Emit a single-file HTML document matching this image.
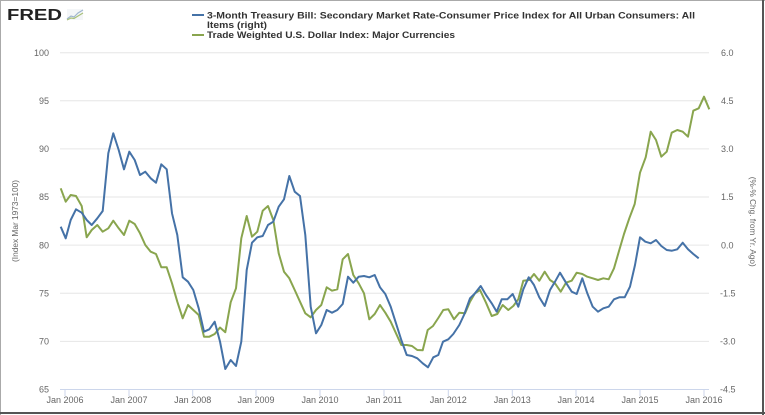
<!DOCTYPE html>
<html><head><meta charset="utf-8"><style>
html,body{margin:0;padding:0;background:#fff;}
svg{display:block;}
text{font-family:"Liberation Sans",Arial,sans-serif;}
</style></head><body>
<svg width="765" height="415" viewBox="0 0 765 415" xmlns="http://www.w3.org/2000/svg">
<rect x="0" y="0" width="765" height="415" fill="#fff"/>
<!-- border -->
<line x1="0.5" y1="0" x2="0.5" y2="415" stroke="#aaa" stroke-width="1"/>
<line x1="0" y1="0.5" x2="765" y2="0.5" stroke="#aaa" stroke-width="1"/>
<line x1="763" y1="0" x2="763" y2="415" stroke="#555" stroke-width="2"/>
<line x1="0" y1="413" x2="765" y2="413" stroke="#555" stroke-width="2"/>

<!-- FRED logo -->
<text x="7" y="20" font-size="16" font-weight="bold" fill="#222" textLength="55" lengthAdjust="spacingAndGlyphs">FRED</text>
<g>
<rect x="67" y="9" width="16" height="11" fill="#f4f6f8"/>
<polyline points="67,19 71,16 74,17 78,13 83,10" fill="none" stroke="#9fb6cf" stroke-width="1.2"/>
<polyline points="67,20 71,18 74,18.5 78,16 83,13" fill="none" stroke="#a9c17a" stroke-width="1.2"/>
</g>

<!-- legend -->
<line x1="192" y1="15" x2="204" y2="15" stroke="#4572a7" stroke-width="2"/>
<line x1="192" y1="35" x2="204" y2="35" stroke="#89a54e" stroke-width="2"/>
<g font-size="9" font-weight="bold" fill="#333">
<text x="207" y="18.3" textLength="488" lengthAdjust="spacingAndGlyphs">3-Month Treasury Bill: Secondary Market Rate-Consumer Price Index for All Urban Consumers: All</text>
<text x="207" y="28" textLength="60" lengthAdjust="spacingAndGlyphs">Items (right)</text>
<text x="207" y="38" textLength="248" lengthAdjust="spacingAndGlyphs">Trade Weighted U.S. Dollar Index: Major Currencies</text>
</g>

<!-- gridlines -->
<g stroke="#e6e6e6" stroke-width="1">
<line x1="60" y1="52.7" x2="709" y2="52.7"/>
<line x1="60" y1="100.8" x2="709" y2="100.8"/>
<line x1="60" y1="148.9" x2="709" y2="148.9"/>
<line x1="60" y1="197" x2="709" y2="197"/>
<line x1="60" y1="245.1" x2="709" y2="245.1"/>
<line x1="60" y1="293.3" x2="709" y2="293.3"/>
<line x1="60" y1="341.4" x2="709" y2="341.4"/>
</g>
<!-- x axis -->
<line x1="60" y1="389.5" x2="709" y2="389.5" stroke="#ccd6eb" stroke-width="1"/>
<g stroke="#ccd6eb" stroke-width="1">
<line x1="65" y1="389.5" x2="65" y2="396"/>
<line x1="129" y1="389.5" x2="129" y2="396"/>
<line x1="192.7" y1="389.5" x2="192.7" y2="396"/>
<line x1="256" y1="389.5" x2="256" y2="396"/>
<line x1="320" y1="389.5" x2="320" y2="396"/>
<line x1="384" y1="389.5" x2="384" y2="396"/>
<line x1="448.3" y1="389.5" x2="448.3" y2="396"/>
<line x1="512.3" y1="389.5" x2="512.3" y2="396"/>
<line x1="576" y1="389.5" x2="576" y2="396"/>
<line x1="640" y1="389.5" x2="640" y2="396"/>
<line x1="704" y1="389.5" x2="704" y2="396"/>
</g>
<g font-size="9" fill="#666" text-anchor="middle">
<text x="65" y="403">Jan 2006</text>
<text x="129" y="403">Jan 2007</text>
<text x="192.7" y="403">Jan 2008</text>
<text x="256" y="403">Jan 2009</text>
<text x="320" y="403">Jan 2010</text>
<text x="384" y="403">Jan 2011</text>
<text x="448.3" y="403">Jan 2012</text>
<text x="512.3" y="403">Jan 2013</text>
<text x="576" y="403">Jan 2014</text>
<text x="640" y="403">Jan 2015</text>
<text x="704" y="403">Jan 2016</text>
</g>
<!-- left labels -->
<g font-size="9" fill="#666" text-anchor="end">
<text x="49" y="55.9">100</text>
<text x="49" y="104">95</text>
<text x="49" y="152.1">90</text>
<text x="49" y="200.2">85</text>
<text x="49" y="248.3">80</text>
<text x="49" y="296.5">75</text>
<text x="49" y="344.6">70</text>
<text x="49" y="392.7">65</text>
</g>
<!-- right labels -->
<g font-size="9" fill="#666" text-anchor="start">
<text x="721" y="55.9">6.0</text>
<text x="721" y="104">4.5</text>
<text x="721" y="152.1">3.0</text>
<text x="721" y="200.2">1.5</text>
<text x="721" y="248.3">0.0</text>
<text x="720" y="296.5">-1.5</text>
<text x="720" y="344.6">-3.0</text>
<text x="720" y="392.7">-4.5</text>
</g>
<!-- axis titles -->
<text x="0" y="0" font-size="8.5" fill="#666" text-anchor="middle" transform="translate(18,221) rotate(-90)" textLength="82" lengthAdjust="spacingAndGlyphs">(Index Mar 1973=100)</text>
<text x="0" y="0" font-size="8.5" fill="#666" text-anchor="middle" transform="translate(750,221.7) rotate(90)" textLength="90" lengthAdjust="spacingAndGlyphs">(%-% Chg. from Yr. Ago)</text>

<!-- green series -->
<polyline fill="none" stroke="#89a54e" stroke-width="2" stroke-linejoin="round" points="60.7,188.3 65.7,201.7 70.7,195 76,196 81.7,206 86.7,237.3 91.7,230 97.3,225 102.7,231.7 108.3,228.3 113.3,220.7 118.7,228.3 124,235 129.3,220.7 134.7,224 140,233.3 145.3,245 150.7,251.7 156,254 161.3,267.3 166.7,267.3 172,283.3 177.3,301.7 182.7,318.3 188,305 193.3,310 198.7,315 204,336.7 209.3,336.7 214.7,334 220,327.5 225.3,332.2 230.7,302.2 236,288.3 241.3,238.3 246.7,216 252,236.7 257.3,231.7 262.7,210.7 268,206 273.3,220 278.7,253.3 284,271.7 289.3,278.3 294.7,290 300,301.7 305.3,313.3 310.7,317.3 316,310 321.3,305 326.7,287.3 332,290.7 337.3,289.3 342.7,259.3 348,254 353.3,275 358.7,283.3 364,293.3 369.3,319.3 374.7,314 380,305 385.3,312.7 390.7,321.7 396,333.3 401.3,345 406.7,345 412,346 417.3,350 422.7,350.3 427.7,330 433,326 438.3,318 443.3,310 448.3,309.3 454,319.3 459.3,312.7 465,313.3 470,301.7 475,293.3 480,290 486,302.7 491.7,316 497.3,314 502.7,305 508.3,310 513.3,306 518.3,299.3 523.3,280.7 529.3,280 534,274 539.3,280.7 544.7,271.7 550,280 555,283.3 560.7,291.7 566,282.7 571.7,280.7 576.7,272.7 582.3,274 587.3,276.7 592.7,278.3 598,280 603.3,278.3 608.7,279.3 614,268.3 619.3,250 624,234 629.3,218.3 634.7,204 640,172.7 645.7,157.3 650.7,131.7 656,140 661.3,156.7 666.7,151.7 671.7,132.7 677.3,130 682.7,131.7 688,136.7 693.3,110.7 698.7,108.3 704,96.7 709.3,109.3"/>

<!-- blue series -->
<polyline fill="none" stroke="#4572a7" stroke-width="2" stroke-linejoin="round" points="60.7,226.7 65.7,238.3 70.7,220 76,209.3 81.7,212.7 86.7,220 91.7,225 97.3,218.3 102.7,211 108.3,153.3 113.3,133.3 118.7,150 124,169.3 129.3,151.7 134.7,160 140,175 145.3,171.7 150.7,178.3 156,182.7 161.3,164.3 166.7,169.3 172,213.3 177.3,235 182.7,277.3 188,281.7 193.3,290 198.7,308.3 204,331.7 209.3,329.3 214.7,321.7 220,341.5 225.3,369 230.7,360 236,366 241.3,341.7 246.7,270 252,242.7 257.3,237.3 262.7,236 268,225 273.3,221.7 278.7,206.7 284,199.3 289.3,176 294.7,191.7 300,196 305.3,235 310.7,306.7 316,333.3 321.3,325 326.7,310 332,312.7 337.3,310 342.7,304 348,276.7 353.3,282.7 358.7,276.7 364,276 369.3,277.3 374.7,275 380,287.3 385.3,294 390.7,306.7 396,323.3 401.3,340 406.7,355 412,356 417.3,358.3 422.7,363.3 428,367.3 433.3,357.3 438.3,355 443,341.7 448.3,339.3 453.3,334 459.3,325 464,315 470,298.3 475,293.3 480.7,286 486,295 491.7,303.3 496.7,311.7 501.7,299.3 507.3,299.3 512.7,294 518.3,306.7 523.3,289.3 528.7,277.3 534,285 539.3,297.3 544.7,306 550,290 555,281.7 560,272.7 566,282.7 571.7,291.7 576.7,294 582.3,278.3 587.3,293.3 592.7,306.7 598,311.7 603.3,308.3 608.7,306.7 614,299.3 619.3,297.3 624.7,297.3 630,286.7 635,265 640,237.3 645.3,241.7 650.7,243.3 656,240 661.3,246 666.7,250 672,250.7 677.3,249.3 682.7,242.7 688,249.3 693.3,254 698.7,258.3"/>
</svg>
</body></html>
